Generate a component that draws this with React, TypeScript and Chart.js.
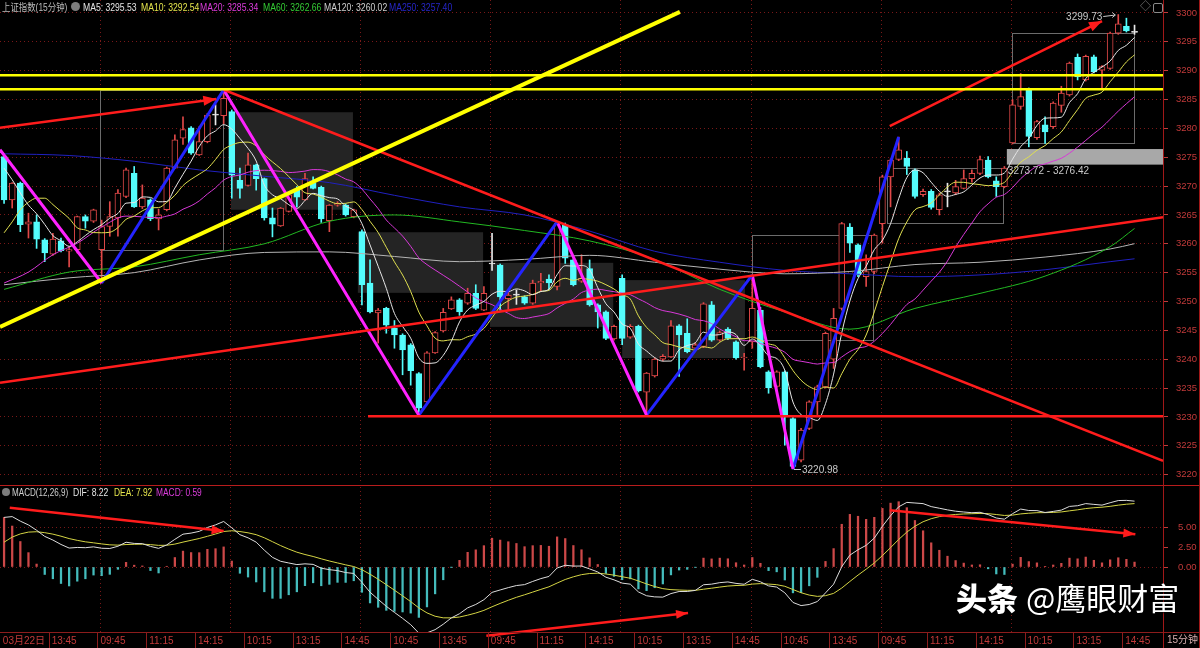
import React, { useEffect, useRef } from 'react';
import { Chart, registerables } from 'chart.js';
Chart.register(...registerables);

// ---------------- data ----------------
const opens = [
3275.1, 3267.6, 3270.5, 3263.4, 3263.8, 3260.7, 3258.2, 3260.5, 3258.7, 3259.0,
3264.7, 3263.9, 3259.0, 3263.0, 3264.5, 3268.2, 3272.2, 3266.4, 3267.6, 3264.3,
3265.9, 3273.1, 3278.3, 3280.1, 3275.4, 3277.7, 3282.3, 3282.2, 3282.9, 3271.0,
3270.1, 3273.7, 3271.3, 3264.5, 3263.1, 3265.6, 3269.4, 3267.6, 3270.5, 3269.8,
3264.0, 3266.7, 3266.7, 3264.7, 3262.1, 3253.2, 3248.0, 3248.8, 3245.4, 3244.2,
3242.5, 3237.5, 3232.6, 3241.1, 3244.9, 3248.7, 3250.3, 3249.7, 3251.4, 3248.5,
3256.5, 3256.3, 3250.5, 3251.1, 3250.8, 3249.7, 3253.2, 3253.9, 3252.6, 3263.3,
3257.2, 3253.5, 3255.7, 3249.4, 3248.2, 3243.5, 3254.0, 3243.8, 3245.7, 3234.3,
3237.1, 3240.0, 3240.4, 3245.8, 3244.5, 3241.9, 3242.2, 3249.4, 3243.3, 3245.2,
3243.0, 3240.2, 3243.0, 3248.5, 3237.8, 3235.3, 3237.8, 3229.7, 3222.5, 3228.0,
3232.6, 3235.2, 3240.0, 3248.8, 3262.9, 3259.8, 3254.3, 3255.2, 3263.5, 3271.6,
3274.6, 3274.8, 3272.8, 3268.5, 3269.1, 3265.9, 3269.0, 3268.8, 3269.6, 3271.3,
3272.2, 3274.5, 3270.9, 3269.9, 3277.5, 3283.8, 3286.7, 3278.4, 3280.6, 3280.3,
3284.0, 3285.8, 3292.3, 3288.4, 3292.4, 3290.1, 3290.4, 3296.5, 3297.7, 3296.65
];
const highs = [
3275.5, 3270.6, 3270.7, 3265.3, 3265.0, 3260.9, 3261.8, 3261.0, 3259.5, 3264.8,
3265.0, 3266.0, 3264.1, 3267.3, 3269.4, 3273.1, 3273.4, 3270.2, 3267.8, 3266.0,
3273.3, 3278.9, 3282.0, 3280.3, 3280.3, 3282.6, 3284.1, 3286.7, 3283.2, 3273.1,
3275.7, 3273.8, 3271.4, 3266.2, 3266.3, 3268.6, 3269.9, 3272.2, 3271.6, 3270.0,
3266.8, 3267.3, 3266.9, 3266.0, 3262.4, 3257.2, 3248.8, 3249.0, 3246.7, 3244.4,
3242.7, 3237.7, 3241.3, 3244.8, 3248.8, 3250.8, 3250.5, 3252.3, 3252.9, 3252.6,
3261.8, 3256.5, 3252.0, 3252.0, 3251.0, 3253.7, 3254.9, 3254.6, 3263.8, 3263.6,
3257.4, 3258.1, 3257.2, 3249.6, 3248.4, 3245.9, 3254.6, 3246.0, 3245.9, 3237.7,
3240.2, 3240.8, 3246.7, 3246.0, 3247.0, 3242.8, 3249.8, 3250.0, 3244.9, 3245.5,
3243.2, 3241.0, 3254.6, 3249.0, 3238.0, 3238.0, 3238.0, 3229.9, 3228.0, 3232.8,
3235.5, 3244.7, 3248.8, 3263.7, 3263.5, 3260.0, 3258.1, 3261.7, 3271.9, 3274.7,
3278.5, 3276.0, 3273.0, 3269.5, 3269.4, 3268.8, 3270.5, 3271.0, 3272.8, 3272.8,
3275.2, 3275.1, 3271.6, 3273.4, 3285.0, 3289.5, 3287.0, 3281.4, 3282.0, 3284.6,
3287.3, 3291.5, 3292.9, 3292.7, 3292.7, 3290.9, 3296.7, 3299.73, 3299.1, 3297.9
];
const lows = [
3267.0, 3266.2, 3262.1, 3261.0, 3259.2, 3256.9, 3258.0, 3258.6, 3256.0, 3258.4,
3262.7, 3263.7, 3253.2, 3261.3, 3261.3, 3268.0, 3266.3, 3266.1, 3264.0, 3262.4,
3265.7, 3273.0, 3277.2, 3275.5, 3275.3, 3277.5, 3280.6, 3280.8, 3267.9, 3267.9,
3270.0, 3269.3, 3264.1, 3261.2, 3263.0, 3265.5, 3266.4, 3267.5, 3269.5, 3263.7,
3262.1, 3266.5, 3264.8, 3264.5, 3249.4, 3248.0, 3242.8, 3244.5, 3241.9, 3237.3,
3235.5, 3230.3, 3232.3, 3241.0, 3244.7, 3248.6, 3247.6, 3249.5, 3248.6, 3248.4,
3255.4, 3248.5, 3248.5, 3249.5, 3249.5, 3249.5, 3251.8, 3252.0, 3252.0, 3256.6,
3252.7, 3253.3, 3249.2, 3245.4, 3243.4, 3243.3, 3242.5, 3243.6, 3234.3, 3230.3,
3236.9, 3239.7, 3240.3, 3237.0, 3241.1, 3241.6, 3242.0, 3243.1, 3243.1, 3243.4,
3240.0, 3238.1, 3241.9, 3238.5, 3234.1, 3235.0, 3225.1, 3220.98, 3222.2, 3227.8,
3230.4, 3235.0, 3238.4, 3248.5, 3258.5, 3254.3, 3252.6, 3254.8, 3260.1, 3266.4,
3274.4, 3272.0, 3267.9, 3268.2, 3266.0, 3265.0, 3266.4, 3268.5, 3269.5, 3270.7,
3272.0, 3271.4, 3268.2, 3269.7, 3277.3, 3283.3, 3276.8, 3278.1, 3277.4, 3280.0,
3282.8, 3285.6, 3288.4, 3288.2, 3289.6, 3286.7, 3290.2, 3296.3, 3296.7, 3296.3
];
const closes = [
3267.6, 3270.5, 3263.3, 3263.8, 3260.8, 3258.4, 3260.8, 3258.8, 3259.0, 3264.7,
3263.9, 3265.9, 3263.0, 3264.7, 3268.8, 3272.8, 3266.4, 3267.9, 3264.3, 3265.0,
3273.1, 3278.0, 3279.8, 3275.7, 3277.7, 3282.3, 3282.3, 3285.2, 3271.9, 3269.6,
3273.7, 3271.3, 3264.5, 3263.4, 3266.2, 3268.5, 3268.1, 3271.3, 3269.6, 3264.3,
3266.7, 3267.0, 3265.0, 3265.9, 3252.9, 3248.2, 3248.5, 3245.9, 3244.2, 3241.6,
3238.0, 3231.5, 3241.1, 3244.6, 3248.1, 3250.3, 3248.2, 3251.4, 3248.8, 3251.4,
3256.5, 3250.8, 3251.1, 3251.1, 3249.7, 3253.2, 3253.5, 3253.2, 3263.6, 3257.5,
3252.9, 3254.0, 3249.4, 3248.2, 3243.6, 3245.7, 3243.6, 3245.7, 3234.5, 3237.6,
3240.0, 3240.5, 3245.8, 3244.2, 3241.3, 3242.5, 3249.6, 3243.3, 3244.6, 3243.6,
3240.2, 3240.3, 3248.8, 3238.7, 3235.0, 3237.8, 3230.0, 3221.4, 3227.7, 3232.6,
3235.2, 3244.5, 3247.1, 3263.5, 3260.1, 3254.6, 3255.2, 3261.5, 3271.6, 3274.5,
3276.3, 3273.4, 3268.2, 3269.1, 3266.3, 3268.5, 3269.0, 3269.9, 3271.3, 3272.2,
3274.6, 3271.6, 3269.9, 3273.1, 3284.1, 3285.5, 3278.6, 3281.2, 3279.4, 3284.4,
3286.1, 3291.3, 3288.9, 3292.5, 3289.8, 3290.7, 3296.5, 3298.1, 3296.9, 3296.65
];

const priceTicks = [3220, 3225, 3230, 3235, 3240, 3245, 3250, 3255, 3260, 3265, 3270, 3275, 3280, 3285, 3290, 3295, 3300];
const macdTicks = [0, 2.5, 5];
const xLabels = ['03月22日', '13:45', '09:45', '11:15', '14:15', '10:15', '13:15', '14:45', '10:45', '13:45', '09:45', '11:15',
  '14:15', '10:15', '13:15', '14:45', '10:45', '13:45', '09:45', '11:15', '14:15', '10:15', '13:15', '14:45'];
const xLabelIdx = [0, 6, 12, 18, 24, 30, 36, 42, 48, 54, 60, 66, 72, 78, 84, 90, 96, 102, 108, 114, 120, 126, 132, 138];
const dayStartIdx = [12, 28, 44, 60, 76, 92, 108, 124];

// moving averages: short ones from closes, their first values and the long ones
const ma5Head = [3273.1, 3271.1, 3268.8, 3266.7];
const ma10Head = [3261.9, 3263.8, 3265.9, 3267.2, 3267.9, 3267.9, 3266.8, 3265.6, 3264.4];
const ma20Head = [3253.2, null, null, 3255.1, null, null, 3258.1, null, null, 3260.1, null, null, 3262.9, null, null, 3264.8, null, null, null];
const maSampleIdx = [0, 8, 16, 24, 32, 40, 48, 56, 64, 72, 80, 88, 96, 104, 112, 120, 128, 136, 139];
const ma60Vals = [3252.1, 3255.1, 3256.0, 3258.1, 3260.0, 3263.9, 3265.0, 3263.8, 3262.3, 3260.5, 3257.3, 3252.1, 3248.2, 3245.2, 3248.8, 3251.4, 3254.4, 3259.5, 3262.66];
const ma120Vals = [3252.9, 3254.1, 3255.0, 3257.2, 3258.5, 3258.6, 3257.8, 3256.9, 3257.3, 3258.0, 3256.8, 3255.6, 3254.8, 3255.2, 3256.4, 3256.8, 3257.7, 3259.1, 3260.02];
const ma250Vals = [3275.6, 3275.3, 3274.3, 3272.8, 3271.7, 3270.6, 3268.4, 3266.4, 3265.0, 3262.2, 3258.7, 3256.8, 3255.4, 3254.8, 3254.3, 3254.6, 3255.5, 3256.9, 3257.4];

// MACD(12,26,9) state at the first visible bar
const ema12Seed = 3263.5;
const ema26Seed = 3257.3;
const deaSeed = 3.1;

// hand-drawn lines, in [bar index, value]
const zigzagIdx = [-0.5, 12, 27, 51, 68, 79, 92, 97, 110];
const zigzagPrice = [3276.3, 3253.2, 3286.7, 3230.3, 3263.8, 3230.3, 3254.6, 3220.98, 3278.5];
const yellowDiag = [[-0.5, 3245.6], [83.1, 3300.2]];
const yellowLevels = [3289.2, 3286.8];
const redArrowTL = [[-0.5, 3280.1], [26.1, 3285.1]];
const redDown = [[27, 3286.7], [142.5, 3222.4]];
const redUp = [[-0.5, 3235.9], [142.5, 3264.6]];
const redFloor = [[44.75, 3230.1], [142.5, 3230.1]];
const redArrowTR = [[108.9, 3280.4], [135.0, 3298.6]];
const macdArrowL = [[0.7, 7.4], [27.0, 4.5]];
const macdArrowB = [[59.3, -8.6], [84.1, -5.75]];
const macdArrowR = [[108.9, 7.1], [139.1, 4.1]];
const shadedBoxes = [[27.9, 42.9, 3282.8, 3265.9], [43.5, 58.9, 3262.0, 3251.5], [59.75, 74.9, 3256.7, 3245.6], [76.0, 91.1, 3253.7, 3240.2]];
const outlineBoxes = [[11.8, 26.9, 3286.7, 3258.9], [92.0, 106.8, 3261.5, 3243.3], [108.6, 122.8, 3273.1, 3263.6], [123.9, 138.9, 3296.5, 3277.5]];
const rangeBand = [123.3, 142.5, 3276.42, 3273.72];
const highMarkIdx = 137;
const lowMarkIdx = 97;

const legendTop = [
  { t: 'MA5: 3295.53', x: 83, c: '#e4e4e4' },
  { t: 'MA10: 3292.54', x: 141, c: '#e4e44c' },
  { t: 'MA20: 3285.34', x: 200, c: '#dc3cdc' },
  { t: 'MA60: 3262.66', x: 263, c: '#34cc34' },
  { t: 'MA120: 3260.02', x: 324, c: '#cfcfcf' },
  { t: 'MA250: 3257.40', x: 389, c: '#2626c8' },
];
const legendMacd = [
  { t: 'MACD(12,26,9)', x: 12, c: '#cfcfcf', s: 0.77 },
  { t: 'DIF: 8.22', x: 73, c: '#e4e4e4', s: 0.82 },
  { t: 'DEA: 7.92', x: 114, c: '#e4e44c', s: 0.8 },
  { t: 'MACD: 0.59', x: 156, c: '#dc3cdc', s: 0.8 },
];

// ---------------- styling constants ----------------
const X_MIN = -0.5, X_MAX = 142.5;
const P_MIN = 3218.37, P_MAX = 3302.25;
const M_MIN = -8.125, M_MAX = 10;
const RED = '#e04848', CYAN = '#54fcfc', WHITE = '#e8e8e8';
const AXIS_RED = '#c23a3a';
const GRID_RED = 'rgba(150,30,30,0.8)';
const LINE_RED = '#ff1c1c';
const FONT = "'Liberation Sans','Noto Sans CJK SC',sans-serif";

function candleColor(i: number) {
  const o = opens[i], c = closes[i];
  return c > o ? RED : c < o ? CYAN : WHITE;
}
function sma(n: number, head: (number | null)[]) {
  return closes.map((_, i) => {
    if (i < n - 1) return head[i] ?? null;
    let s = 0;
    for (let k = i - n + 1; k <= i; k++) s += closes[k];
    return s / n;
  });
}
function pts(vals: (number | null)[]) {
  return vals.map((v, i) => ({ x: i, y: v })).filter((p) => p.y !== null);
}
function seg(points: number[][], color: string, width: number, order: number, extra: any = {}) {
  return { type: 'line', data: points.map((p) => ({ x: p[0], y: p[1] })), borderColor: color, borderWidth: width,
    pointRadius: 0, tension: 0, order, ...extra };
}
function maLine(data: any[], color: string, order: number) {
  return { type: 'line', data, borderColor: color, borderWidth: 1, pointRadius: 0, cubicInterpolationMode: 'monotone', order };
}
function arrowHead(ctx: CanvasRenderingContext2D, x0: number, y0: number, x1: number, y1: number, color: string, len = 13, half = 5) {
  const a = Math.atan2(y1 - y0, x1 - x0);
  ctx.save();
  ctx.fillStyle = color;
  ctx.beginPath();
  ctx.moveTo(x1, y1);
  ctx.lineTo(x1 - len * Math.cos(a) + half * Math.sin(a), y1 - len * Math.sin(a) - half * Math.cos(a));
  ctx.lineTo(x1 - len * Math.cos(a) - half * Math.sin(a), y1 - len * Math.sin(a) + half * Math.cos(a));
  ctx.closePath();
  ctx.fill();
  ctx.restore();
}
function computeMacd() {
  let e12 = ema12Seed, e26 = ema26Seed, dea = deaSeed;
  const dif: number[] = [], deaA: number[] = [], hist: number[] = [];
  closes.forEach((c, i) => {
    if (i > 0) { e12 += (2 / 13) * (c - e12); e26 += (2 / 27) * (c - e26); }
    const d = e12 - e26;
    if (i > 0) dea += 0.2 * (d - dea);
    dif.push(d); deaA.push(dea); hist.push(2 * (d - dea));
  });
  return { dif, deaA, hist };
}
const noPadY = (w: number) => (s: any) => { s.width = w; s.paddingTop = 0; s.paddingBottom = 0; };
const noPadX = (h: number) => (s: any) => { s.height = h; s.paddingLeft = 0; s.paddingRight = 0; };

export default function App() {
  const mainRef = useRef<HTMLCanvasElement>(null);
  const macdRef = useRef<HTMLCanvasElement>(null);

  useEffect(() => {
    document.body.style.margin = '0';
    document.body.style.background = '#000';

    const mainDecor = {
      id: 'mainDecor',
      beforeDatasetsDraw(chart: any) {
        const { ctx, chartArea: a, scales: { x, y } } = chart;
        ctx.save();
        ctx.beginPath(); ctx.rect(a.left, a.top, a.right - a.left, a.bottom - a.top); ctx.clip();
        ctx.fillStyle = '#242424';
        shadedBoxes.forEach((b) => {
          const x0 = x.getPixelForValue(b[0]), x1 = x.getPixelForValue(b[1]);
          const y0 = y.getPixelForValue(b[2]), y1 = y.getPixelForValue(b[3]);
          ctx.fillRect(x0, y0, x1 - x0, y1 - y0);
        });
        ctx.fillStyle = '#a8a8a8';
        {
          const x0 = x.getPixelForValue(rangeBand[0]), x1 = x.getPixelForValue(rangeBand[1]);
          const y0 = y.getPixelForValue(rangeBand[2]), y1 = y.getPixelForValue(rangeBand[3]);
          ctx.fillRect(x0, y0, x1 - x0, y1 - y0);
        }
        ctx.strokeStyle = '#6c6c6c'; ctx.lineWidth = 1;
        outlineBoxes.forEach((b) => {
          const x0 = Math.round(x.getPixelForValue(b[0])) + 0.5, x1 = Math.round(x.getPixelForValue(b[1])) + 0.5;
          const y0 = Math.round(y.getPixelForValue(b[2])) + 0.5, y1 = Math.round(y.getPixelForValue(b[3])) + 0.5;
          ctx.strokeRect(x0, y0, x1 - x0, y1 - y0);
        });
        ctx.restore();
      },
      afterDatasetsDraw(chart: any) {
        const { ctx, scales: { x, y } } = chart;
        [redArrowTL, redArrowTR].forEach((l) => arrowHead(ctx,
          x.getPixelForValue(l[0][0]), y.getPixelForValue(l[0][1]),
          x.getPixelForValue(l[1][0]), y.getPixelForValue(l[1][1]), LINE_RED));
        ctx.save();
        ctx.font = `10px ${FONT}`;
        ctx.fillStyle = '#c8c8c8'; ctx.strokeStyle = '#c8c8c8'; ctx.lineWidth = 1;
        ctx.textBaseline = 'middle';
        const hx = x.getPixelForValue(highMarkIdx), hy = y.getPixelForValue(highs[highMarkIdx]);
        ctx.textAlign = 'right';
        ctx.fillText(highs[highMarkIdx].toFixed(2), hx - 16, hy + 3);
        ctx.beginPath(); ctx.moveTo(hx - 15, hy + 2); ctx.lineTo(hx - 3, hy + 0.5); ctx.stroke();
        ctx.beginPath(); ctx.moveTo(hx - 6, hy - 2); ctx.lineTo(hx - 3, hy + 0.5); ctx.lineTo(hx - 6, hy + 3); ctx.stroke();
        const lx = x.getPixelForValue(lowMarkIdx), ly = y.getPixelForValue(lows[lowMarkIdx]);
        ctx.textAlign = 'left';
        ctx.beginPath(); ctx.moveTo(lx + 1, Math.round(ly) + 0.5); ctx.lineTo(lx + 8, Math.round(ly) + 0.5); ctx.stroke();
        ctx.fillText(lows[lowMarkIdx].toFixed(2), lx + 9, ly + 1);
        ctx.fillText(`${rangeBand[3].toFixed(2)} - ${rangeBand[2].toFixed(2)}`,
          x.getPixelForValue(rangeBand[0]) + 1, y.getPixelForValue(rangeBand[3]) + 7);
        ctx.restore();
      },
    };

    const bodyData = closes.map((c, i) => {
      const o = opens[i];
      return { x: i, y: [Math.min(o, c), Math.max(o, c)] };
    });
    const wickData = closes.map((_, i) => ({ x: i, y: [lows[i], highs[i]] }));
    const colors = closes.map((_, i) => candleColor(i));

    const zigzag: any[] = [];
    for (let k = 0; k < zigzagIdx.length - 1; k++) {
      zigzag.push(seg([[zigzagIdx[k], zigzagPrice[k]], [zigzagIdx[k + 1], zigzagPrice[k + 1]]],
        k % 2 === 0 ? '#ff22ff' : '#2424ff', 3, 3));
    }

    const sampled = (vals: number[]) => vals.map((v, k) => ({ x: maSampleIdx[k], y: v }));

    const main = new Chart(mainRef.current as HTMLCanvasElement, {
      type: 'line',
      data: {
        datasets: [
          seg(yellowDiag, '#ffff00', 4, 1),
          ...yellowLevels.map((v) => seg([[X_MIN, v], [X_MAX, v]], '#ffff00', 2.5, 1)),
          seg(redArrowTL, LINE_RED, 2.5, 2),
          seg(redDown, LINE_RED, 2.5, 2),
          seg(redUp, LINE_RED, 2.5, 2),
          seg(redFloor, LINE_RED, 2.5, 2),
          seg(redArrowTR, LINE_RED, 2.5, 2),
          ...zigzag,
          maLine(pts(sma(5, ma5Head)), '#e6e6e6', 5),
          maLine(pts(sma(10, ma10Head)), '#e0e050', 6),
          maLine(pts(sma(20, ma20Head)), '#d838d8', 7),
          maLine(sampled(ma60Vals), '#22b822', 8),
          maLine(sampled(ma120Vals), '#b4b4b4', 9),
          maLine(sampled(ma250Vals), '#2020c0', 10),
          { type: 'bar', data: bodyData, backgroundColor: colors.map((c) => (c === RED ? '#000' : c)),
            borderColor: colors, borderWidth: 1, borderSkipped: false, barThickness: 6, minBarLength: 1,
            grouped: false, order: 20 },
          { type: 'bar', data: wickData, backgroundColor: colors, barThickness: 1, grouped: false, order: 21 },
        ] as any,
      },
      options: {
        responsive: false,
        animation: false,
        events: [],
        layout: { padding: 0, autoPadding: false },
        plugins: { legend: { display: false }, tooltip: { enabled: false } },
        scales: {
          x: {
            type: 'linear', min: X_MIN, max: X_MAX, offset: false,
            afterBuildTicks: (s: any) => { s.ticks = dayStartIdx.map((d) => ({ value: d - 0.15 })); },
            afterFit: noPadX(1),
            ticks: { display: false },
            grid: { color: GRID_RED, drawTicks: false, offset: false },
            border: { display: false, dash: [1, 3] },
          },
          y: {
            type: 'linear', position: 'right', min: P_MIN, max: P_MAX,
            afterBuildTicks: (s: any) => { s.ticks = priceTicks.map((v) => ({ value: v })); },
            afterFit: noPadY(37),
            ticks: { color: AXIS_RED, padding: 8, font: { size: 9.5, family: FONT }, callback: (v: any) => String(v) },
            grid: { color: GRID_RED, tickColor: AXIS_RED, tickLength: 5 },
            border: { display: false, dash: [1, 3] },
          },
        },
      } as any,
      plugins: [mainDecor],
    });

    const { dif, deaA, hist } = computeMacd();
    const tickSet = Array.from(new Set([...xLabelIdx, ...dayStartIdx])).sort((a, b) => a - b);

    const macdDecor = {
      id: 'macdDecor',
      afterDatasetsDraw(chart: any) {
        const { ctx, scales: { x, y } } = chart;
        [macdArrowL, macdArrowB, macdArrowR].forEach((l) => arrowHead(ctx,
          x.getPixelForValue(l[0][0]), y.getPixelForValue(l[0][1]),
          x.getPixelForValue(l[1][0]), y.getPixelForValue(l[1][1]), LINE_RED, 12, 4.5));
      },
      afterDraw(chart: any) {
        const { ctx, chartArea: a, scales: { x } } = chart;
        ctx.save();
        ctx.strokeStyle = '#8c1c1c'; ctx.lineWidth = 1;
        xLabelIdx.forEach((i) => {
          const px = Math.round(x.getPixelForValue(i - 0.15)) - 2.5;
          if (px < 1) return;
          ctx.beginPath(); ctx.moveTo(px, a.bottom); ctx.lineTo(px, chart.height); ctx.stroke();
        });
        ctx.restore();
      },
    };

    const macd = new Chart(macdRef.current as HTMLCanvasElement, {
      type: 'line',
      data: {
        datasets: [
          seg(macdArrowL, LINE_RED, 2.5, 1),
          seg(macdArrowB, LINE_RED, 2.5, 1, { clip: false }),
          seg(macdArrowR, LINE_RED, 2.5, 1),
          { type: 'line', data: dif.map((v, i) => ({ x: i, y: v })), borderColor: '#dcdcdc', borderWidth: 1, pointRadius: 0, order: 5 },
          { type: 'line', data: deaA.map((v, i) => ({ x: i, y: v })), borderColor: '#d4d444', borderWidth: 1, pointRadius: 0, order: 6 },
          { type: 'bar', data: hist.map((v, i) => ({ x: i, y: v })), backgroundColor: hist.map((v) => (v >= 0 ? '#cc4848' : '#44bcbc')),
            barThickness: 1.6, grouped: false, order: 10 },
        ] as any,
      },
      options: {
        responsive: false,
        animation: false,
        events: [],
        layout: { padding: { top: 1, left: 0, right: 0, bottom: 0 }, autoPadding: false },
        plugins: { legend: { display: false }, tooltip: { enabled: false } },
        scales: {
          x: {
            type: 'linear', min: X_MIN, max: X_MAX, offset: false,
            afterBuildTicks: (s: any) => { s.ticks = tickSet.map((v) => ({ value: v - 0.15 })); },
            afterFit: noPadX(16),
            ticks: {
              display: true, align: 'start', autoSkip: false, maxRotation: 0, padding: 3, color: AXIS_RED,
              font: { size: 10, family: FONT },
              callback: (v: any) => { const k = xLabelIdx.indexOf(Math.round(v + 0.15)); return k >= 0 ? xLabels[k] : ''; },
            },
            grid: {
              color: (c: any) => (c.tick && dayStartIdx.includes(Math.round(c.tick.value + 0.15)) ? GRID_RED : 'rgba(0,0,0,0)'),
              drawTicks: false, offset: false,
            },
            border: { display: false, dash: [1, 3] },
          },
          y: {
            type: 'linear', position: 'right', min: M_MIN, max: M_MAX,
            afterBuildTicks: (s: any) => { s.ticks = macdTicks.map((v) => ({ value: v })); },
            afterFit: noPadY(37),
            ticks: { color: AXIS_RED, padding: 10, font: { size: 9.5, family: FONT }, callback: (v: any) => Number(v).toFixed(2) },
            grid: {
              color: (c: any) => (c.tick && (c.tick.value === 0 || c.tick.value === 5) ? GRID_RED : 'rgba(0,0,0,0)'),
              tickColor: AXIS_RED, tickLength: 5,
            },
            border: { display: false, dash: [1, 3] },
          },
        },
      } as any,
      plugins: [macdDecor],
    });

    return () => { main.destroy(); macd.destroy(); };
  }, []);

  const txt = (left: number, top: number, color: string, s: string, size = 10.5, sx = 0.82) => (
    <span key={s + left + top} style={{ position: 'absolute', left, top, color, fontSize: size, fontFamily: FONT,
      whiteSpace: 'nowrap', lineHeight: '12px', transform: `scaleX(${sx})`, transformOrigin: 'left center' }}>{s}</span>
  );
  const frame = (left: number, top: number, width: number, height: number, bg: string) => (
    <div style={{ position: 'absolute', left, top, width, height, background: bg }} />
  );

  return (
    <div style={{ position: 'relative', width: 1200, height: 648, background: '#000', overflow: 'hidden' }}>
      <canvas ref={mainRef} width={1200} height={485} style={{ position: 'absolute', left: 0, top: 0 }} />
      <canvas ref={macdRef} width={1200} height={162} style={{ position: 'absolute', left: 0, top: 486 }} />
      {frame(0, 485, 1200, 1, '#b81c1c')}
      {frame(0, 632, 1200, 1, '#8c1c1c')}
      {frame(1163, 0, 1, 648, '#a01818')}
      {frame(1199, 0, 1, 648, '#a01818')}
      {txt(2, 1, '#bcbcbc', '上证指数(15分钟)', 10.5, 0.8)}
      <div style={{ position: 'absolute', left: 71, top: 2, width: 9, height: 9, borderRadius: '50%', background: '#7c7c7c' }} />
      {legendTop.map((l) => txt(l.x, 1, l.c, l.t))}
      <div style={{ position: 'absolute', left: 2, top: 488, width: 8, height: 8, borderRadius: '50%', background: '#7c7c7c' }} />
      {legendMacd.map((l) => txt(l.x, 486, l.c, l.t, 10.5, l.s))}
      {txt(1140, 0, '#8a8a8a', '◇', 11, 1)}
      <div style={{ position: 'absolute', left: 1153, top: 3, width: 8, height: 8, border: '1px solid #8a8a8a', borderRadius: 2 }} />
      {txt(1167, 634, '#d8b0b0', '15分钟', 10, 1)}
      <div style={{ position: 'absolute', left: 956, top: 579, color: '#fff', fontFamily: "'Noto Sans CJK SC',sans-serif",
        fontSize: 31, lineHeight: '36px', whiteSpace: 'nowrap', textShadow: '1px 1px 2px rgba(0,0,0,0.9)' }}>
        <span style={{ fontWeight: 900 }}>头条</span>
        <span style={{ fontWeight: 400, marginLeft: 8 }}>@鹰眼财富</span>
      </div>
    </div>
  );
}
